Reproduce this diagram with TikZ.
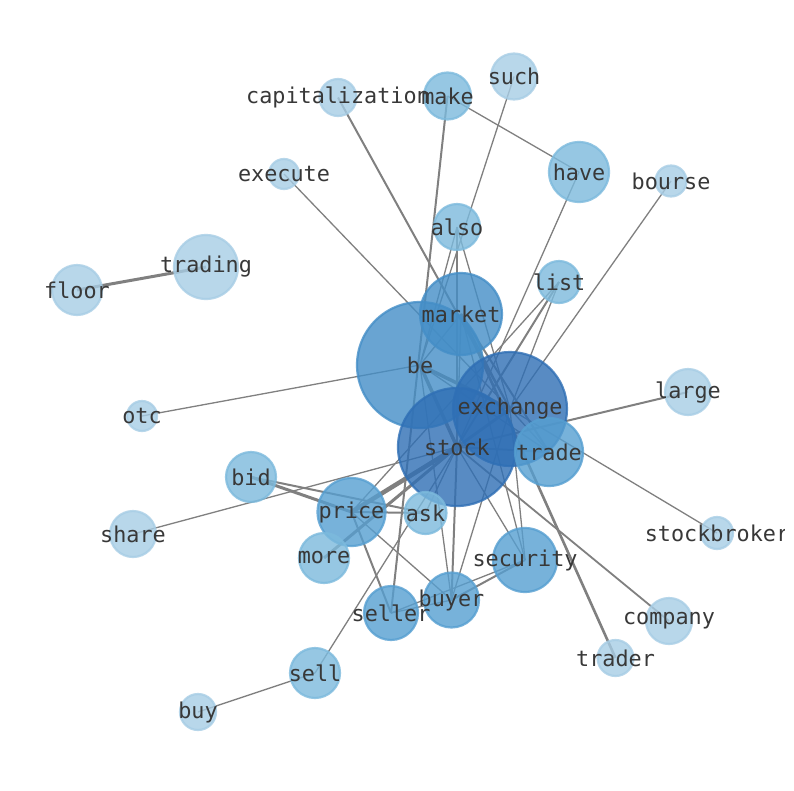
\documentclass[tikz,border=0pt]{standalone}
\usepackage{fontspec}
\newfontfamily\monofnt{DejaVu Sans Mono}
\pgfdeclarelayer{bglayer}
\pgfdeclarelayer{edgelayer}
\pgfsetlayers{bglayer,edgelayer,main}
\definecolor{cA}{HTML}{A7CDE5}
\definecolor{cB}{HTML}{7CBADD}
\definecolor{cC}{HTML}{569FD1}
\definecolor{cD}{HTML}{448EC7}
\definecolor{cE}{HTML}{2F6FB5}
\definecolor{edgegray}{HTML}{808080}
\definecolor{labelgray}{HTML}{383838}
\tikzset{
  vtx/.style={circle, inner sep=0pt, minimum size=#1, line width=2.2pt, fill opacity=0.8, draw opacity=0.8},
  vA/.style={vtx=#1, draw=cA, fill=cA},
  vB/.style={vtx=#1, draw=cB, fill=cB},
  vC/.style={vtx=#1, draw=cC, fill=cC},
  vD/.style={vtx=#1, draw=cD, fill=cD},
  vE/.style={vtx=#1, draw=cE, fill=cE},
  lbl/.style={font=\monofnt\fontsize{21.8}{24}\selectfont, text=labelgray, inner sep=0pt},
  edg/.style={draw=edgegray, line width=#1},
  edg/.default=1.3pt
}
\begin{document}
\begin{tikzpicture}[x=1pt,y=-1pt]
\useasboundingbox (0,0) rectangle (794,790);
\begin{pgfonlayer}{bglayer}
\fill[white] (0,0) rectangle (794,790);
\end{pgfonlayer}
\begin{scope}
\clip (0,0) rectangle (784,790);
% vertices
\node[vA=46pt] (such) at (514,76.5) {};
\node[vB=47pt] (make) at (447.5,96) {};
\node[vA=37pt] (capitalization) at (338,97.5) {};
\node[vB=60pt] (have) at (579,172) {};
\node[vA=31pt] (bourse) at (671,181) {};
\node[vA=30pt] (execute) at (284,174) {};
\node[vB=46pt] (also) at (457,227) {};
\node[vA=64pt] (trading) at (206,267) {};
\node[vA=50pt] (floor) at (77,290) {};
\node[vB=42pt] (list) at (559,282) {};
\node[vD=126pt] (be) at (420,365) {};
\node[vD=82pt] (market) at (461,314) {};
\node[vE=114pt] (exchange) at (510,409) {};
\node[vA=46pt] (large) at (688,392) {};
\node[vA=30pt] (otc) at (142,416) {};
\node[vE=118pt] (stock) at (457,447) {};
\node[vC=68pt] (trade) at (549,452) {};
\node[vB=50pt] (bid) at (251,477) {};
\node[vC=68pt] (price) at (351.5,512) {};
\node[vB=42pt] (ask) at (425.5,513) {};
\node[vA=46pt] (share) at (133,534) {};
\node[vA=32pt] (stockbroker) at (717,533) {};
\node[vB=50pt] (more) at (324,558) {};
\node[vC=64pt] (security) at (525,560) {};
\node[vC=55pt] (buyer) at (451.5,600) {};
\node[vC=54pt] (seller) at (391,613) {};
\node[vA=46pt] (company) at (669,621) {};
\node[vA=36pt] (trader) at (615.5,658) {};
\node[vB=50pt] (sell) at (315,673) {};
\node[vA=36pt] (buy) at (198,712) {};
% labels
\foreach \n in {such,make,capitalization,have,bourse,execute,also,trading,floor,list,be,market,exchange,large,otc,stock,trade,bid,price,ask,share,stockbroker,more,security,buyer,seller,company,trader,sell,buy}
  \node[lbl] (lbl-\n) at (\n.center) {\n};
\end{scope}
% edges
\begin{pgfonlayer}{edgelayer}
\draw[edg=3pt] (floor.center) -- (trading.center);
\draw[edg] (buy.center) -- (sell.center);
\draw[edg] (sell.center) -- (stock.center);
\draw[edg] (otc.center) -- (be.center);
\draw[edg] (share.center) -- (stock.center);
\draw[edg] (execute.center) -- (exchange.center);
\draw[edg=2pt] (capitalization.center) -- (exchange.center);
\draw[edg=2pt] (make.center) -- (seller.center);
\draw[edg] (make.center) -- (have.center);
\draw[edg] (such.center) -- (be.center);
\draw[edg] (also.center) -- (stock.center);
\draw[edg] (also.center) -- (be.center);
\draw[edg] (also.center) -- (exchange.center);
\draw[edg] (have.center) -- (stock.center);
\draw[edg] (bourse.center) -- (exchange.center);
\draw[edg=2pt] (list.center) -- (stock.center);
\draw[edg] (list.center) -- (exchange.center);
\draw[edg] (list.center) -- (price.center);
\draw[edg=2pt] (large.center) -- (stock.center);
\draw[edg] (stockbroker.center) -- (exchange.center);
\draw[edg=1.8pt] (company.center) -- (stock.center);
\draw[edg=2.6pt] (trader.center) -- (market.center);
\draw[edg=3.5pt] (be.center) -- (stock.center);
\draw[edg=3.5pt] (be.center) -- (exchange.center);
\draw[edg] (be.center) -- (market.center);
\draw[edg] (market.center) -- (stock.center);
\draw[edg] (market.center) -- (exchange.center);
\draw[edg] (be.center) -- (trade.center);
\draw[edg=2pt] (market.center) -- (trade.center);
\draw[edg=3pt] (stock.center) -- (exchange.center);
\draw[edg=2pt] (stock.center) -- (trade.center);
\draw[edg] (exchange.center) -- (trade.center);
\draw[edg=4.5pt] (price.center) -- (stock.center);
\draw[edg=3pt] (more.center) -- (stock.center);
\draw[edg=3pt] (bid.center) -- (price.center);
\draw[edg=2pt] (bid.center) -- (ask.center);
\draw[edg=2pt] (price.center) -- (ask.center);
\draw[edg] (ask.center) -- (stock.center);
\draw[edg=2pt] (price.center) -- (seller.center);
\draw[edg] (price.center) -- (buyer.center);
\draw[edg] (seller.center) -- (buyer.center);
\draw[edg] (seller.center) -- (security.center);
\draw[edg=2pt] (buyer.center) -- (security.center);
\draw[edg=2pt] (buyer.center) -- (stock.center);
\draw[edg] (buyer.center) -- (exchange.center);
\draw[edg] (be.center) -- (buyer.center);
\draw[edg] (security.center) -- (stock.center);
\draw[edg] (security.center) -- (exchange.center);
\draw[edg] (security.center) -- (market.center);
\end{pgfonlayer}
\end{tikzpicture}
\end{document}
